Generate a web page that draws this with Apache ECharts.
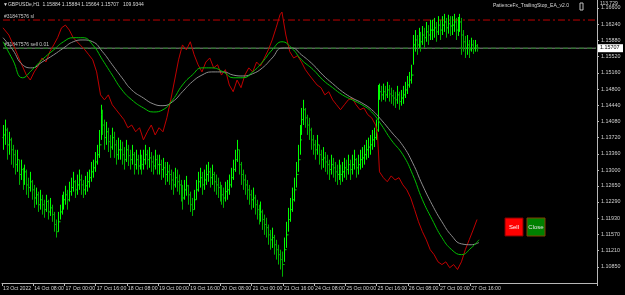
<!DOCTYPE html>
<html><head><meta charset="utf-8">
<script src="https://cdn.jsdelivr.net/npm/echarts@6/dist/echarts.min.js"></script>
<style>html,body{margin:0;padding:0;background:#000;}#c{width:625px;height:295px;}</style>
</head><body><div id="c"></div>
<script>
const firstOpen = 1.1372;
const closes = [
1.1378,1.1389,1.1356,1.1367,1.1345, 1.1334,1.1312,1.1323,1.1290,1.1301, 1.1278,1.1296,1.1267,1.1261,1.1274,
1.1256,1.1238,1.1245,1.1223,1.1234, 1.1223,1.1212,1.1230,1.1207,1.1216, 1.1201,1.1179,1.1163,1.1185,1.1207,
1.1223,1.1234,1.1245,1.1234,1.1252, 1.1261,1.1274,1.1256,1.1267,1.1278, 1.1267,1.1256,1.1265,1.1274,1.1283,
1.1296,1.1305,1.1318,1.1334,1.1356, 1.1423,1.1400,1.1372,1.1385,1.1363, 1.1351,1.1372,1.1356,1.1334,1.1345,
1.1345,1.1334,1.1323,1.1345,1.1332, 1.1323,1.1334,1.1312,1.1323,1.1309, 1.1323,1.1312,1.1323,1.1334,1.1323,
1.1327,1.1318,1.1309,1.1323,1.1312, 1.1312,1.1301,1.1305,1.1290,1.1296, 1.1290,1.1278,1.1267,1.1283,1.1274,
1.1267,1.1252,1.1238,1.1256,1.1265, 1.1245,1.1223,1.1212,1.1234,1.1256, 1.1274,1.1283,1.1267,1.1278,1.1290,
1.1296,1.1283,1.1290,1.1274,1.1267, 1.1261,1.1252,1.1245,1.1238,1.1252, 1.1256,1.1267,1.1283,1.1301,1.1323,
1.1345,1.1312,1.1290,1.1278,1.1267, 1.1256,1.1245,1.1234,1.1238,1.1223, 1.1212,1.1201,1.1207,1.1190,1.1179,
1.1172,1.1156,1.1145,1.1150,1.1134, 1.1123,1.1112,1.1101,1.1090,1.1123, 1.1156,1.1190,1.1212,1.1234,1.1256,
1.1290,1.1323,1.1367,1.1412,1.1434, 1.1416,1.1400,1.1389,1.1367,1.1356, 1.1345,1.1356,1.1334,1.1323,1.1327,
1.1318,1.1312,1.1301,1.1312,1.1305, 1.1296,1.1290,1.1301,1.1290,1.1296, 1.1305,1.1301,1.1312,1.1301,1.1312,
1.1323,1.1305,1.1312,1.1323,1.1327, 1.1334,1.1345,1.1351,1.1356,1.1367, 1.1372,1.1389,1.1467,1.1474,1.1467,
1.1474,1.1467,1.1478,1.1469,1.1465, 1.1460,1.1456,1.1467,1.1452,1.1460, 1.1467,1.1478,1.1489,1.1500,1.1511,
1.1578,1.1589,1.1578,1.1594,1.1585, 1.1600,1.1594,1.1607,1.1600,1.1611, 1.1611,1.1616,1.1607,1.1622,1.1611,
1.1622,1.1629,1.1616,1.1625,1.1620, 1.1622,1.1629,1.1611,1.1620,1.1629, 1.1600,1.1585,1.1571,1.1578,1.1567,
1.1578,1.1571,1.1576,1.15707
];
const highs = [
1.1400,1.1412,1.1394,1.1385,1.1372, 1.1356,1.1345,1.1345,1.1323,1.1323, 1.1305,1.1312,1.1301,1.1283,1.1296,
1.1278,1.1267,1.1261,1.1252,1.1256, 1.1245,1.1234,1.1245,1.1234,1.1238, 1.1223,1.1207,1.1190,1.1207,1.1223,
1.1245,1.1252,1.1265,1.1256,1.1274, 1.1283,1.1296,1.1278,1.1290,1.1301, 1.1290,1.1278,1.1287,1.1296,1.1301,
1.1318,1.1323,1.1340,1.1356,1.1389, 1.1445,1.1434,1.1412,1.1407,1.1394, 1.1378,1.1394,1.1385,1.1367,1.1372,
1.1367,1.1363,1.1351,1.1367,1.1356, 1.1345,1.1356,1.1340,1.1345,1.1334, 1.1345,1.1334,1.1345,1.1356,1.1345,
1.1351,1.1340,1.1332,1.1345,1.1334, 1.1334,1.1323,1.1327,1.1318,1.1318, 1.1312,1.1301,1.1296,1.1305,1.1301,
1.1290,1.1278,1.1267,1.1278,1.1287, 1.1267,1.1252,1.1238,1.1256,1.1278, 1.1296,1.1305,1.1296,1.1301,1.1312,
1.1318,1.1305,1.1312,1.1296,1.1290, 1.1283,1.1274,1.1267,1.1261,1.1274, 1.1278,1.1290,1.1305,1.1323,1.1345,
1.1367,1.1345,1.1318,1.1301,1.1290, 1.1278,1.1267,1.1256,1.1261,1.1245, 1.1234,1.1223,1.1230,1.1212,1.1201,
1.1194,1.1179,1.1167,1.1172,1.1156, 1.1145,1.1134,1.1123,1.1119,1.1150, 1.1185,1.1216,1.1238,1.1261,1.1283,
1.1318,1.1356,1.1400,1.1438,1.1456, 1.1438,1.1423,1.1416,1.1394,1.1378, 1.1367,1.1378,1.1356,1.1345,1.1351,
1.1340,1.1334,1.1323,1.1334,1.1327, 1.1318,1.1312,1.1323,1.1312,1.1318, 1.1327,1.1323,1.1334,1.1323,1.1334,
1.1345,1.1327,1.1334,1.1345,1.1351, 1.1356,1.1367,1.1372,1.1378,1.1389, 1.1394,1.1412,1.1489,1.1492,1.1487,
1.1492,1.1487,1.1496,1.1489,1.1483, 1.1478,1.1474,1.1487,1.1474,1.1478, 1.1487,1.1496,1.1509,1.1518,1.1534,
1.1600,1.1611,1.1600,1.1616,1.1607, 1.1620,1.1616,1.1629,1.1622,1.1634, 1.1634,1.1638,1.1629,1.1642,1.1634,
1.1642,1.1647,1.1638,1.1645,1.1642, 1.1642,1.1647,1.1638,1.1640,1.1647, 1.1638,1.1611,1.1598,1.1600,1.1589,
1.1594,1.1589,1.1589,1.1580
];
const lows = [
1.1345,1.1356,1.1323,1.1334,1.1312, 1.1305,1.1290,1.1296,1.1267,1.1278, 1.1256,1.1267,1.1245,1.1238,1.1252,
1.1234,1.1216,1.1223,1.1207,1.1212, 1.1201,1.1194,1.1207,1.1190,1.1198, 1.1185,1.1163,1.1150,1.1163,1.1190,
1.1201,1.1212,1.1223,1.1212,1.1230, 1.1243,1.1252,1.1238,1.1245,1.1256, 1.1245,1.1238,1.1245,1.1252,1.1261,
1.1274,1.1283,1.1296,1.1312,1.1327, 1.1367,1.1378,1.1345,1.1356,1.1340, 1.1327,1.1345,1.1327,1.1312,1.1323,
1.1323,1.1312,1.1301,1.1318,1.1309, 1.1301,1.1312,1.1290,1.1301,1.1290, 1.1301,1.1290,1.1301,1.1312,1.1301,
1.1305,1.1296,1.1290,1.1301,1.1290, 1.1290,1.1278,1.1283,1.1267,1.1274, 1.1267,1.1256,1.1245,1.1261,1.1252,
1.1245,1.1230,1.1212,1.1234,1.1243, 1.1223,1.1207,1.1198,1.1212,1.1234, 1.1252,1.1261,1.1245,1.1256,1.1267,
1.1274,1.1261,1.1267,1.1252,1.1245, 1.1238,1.1230,1.1223,1.1216,1.1230, 1.1234,1.1245,1.1261,1.1278,1.1296,
1.1318,1.1290,1.1267,1.1256,1.1245, 1.1234,1.1223,1.1212,1.1216,1.1201, 1.1190,1.1179,1.1185,1.1167,1.1156,
1.1150,1.1134,1.1123,1.1127,1.1112, 1.1101,1.1090,1.1079,1.1063,1.1096, 1.1127,1.1163,1.1185,1.1207,1.1230,
1.1261,1.1296,1.1334,1.1378,1.1400, 1.1394,1.1378,1.1367,1.1345,1.1334, 1.1323,1.1334,1.1312,1.1301,1.1305,
1.1296,1.1290,1.1278,1.1290,1.1283, 1.1274,1.1267,1.1278,1.1267,1.1274, 1.1283,1.1278,1.1290,1.1278,1.1290,
1.1301,1.1283,1.1290,1.1301,1.1305, 1.1312,1.1323,1.1327,1.1334,1.1345, 1.1351,1.1367,1.1385,1.1456,1.1452,
1.1456,1.1452,1.1460,1.1452,1.1447, 1.1443,1.1438,1.1447,1.1434,1.1443, 1.1447,1.1460,1.1469,1.1483,1.1492,
1.1534,1.1563,1.1556,1.1571,1.1563, 1.1578,1.1571,1.1585,1.1578,1.1589, 1.1589,1.1594,1.1585,1.1600,1.1589,
1.1600,1.1607,1.1594,1.1603,1.1598, 1.1600,1.1607,1.1589,1.1598,1.1607, 1.1556,1.1563,1.1549,1.1556,1.1549,
1.1563,1.1558,1.1563,1.1563
];
const redLine = [[0,1.1616],[3,1.1600],[6,1.1571],[9,1.1540],[12,1.1511],[14,1.1500],[16,1.1518],[18,1.1531],[20,1.1549],[22,1.1540],[24,1.1563],[26,1.1578],[28,1.1594],[30,1.1616],[32,1.1622],[34,1.1611],[36,1.1594],[38,1.1585],[40,1.1576],[42,1.1567],[44,1.1556],[46,1.1545],[48,1.1518],[50,1.1467],[52,1.1456],[54,1.1467],[56,1.1445],[58,1.1434],[60,1.1423],[62,1.1412],[64,1.1394],[66,1.1400],[68,1.1385],[70,1.1394],[72,1.1367],[74,1.1385],[76,1.1400],[78,1.1378],[80,1.1394],[82,1.1385],[84,1.1416],[86,1.1456],[88,1.1500],[90,1.1545],[92,1.1578],[94,1.1567],[96,1.1585],[98,1.1556],[100,1.1534],[102,1.1518],[104,1.1540],[106,1.1549],[108,1.1527],[110,1.1534],[112,1.1511],[114,1.1523],[116,1.1489],[118,1.1474],[120,1.1500],[122,1.1483],[124,1.1511],[126,1.1527],[128,1.1518],[130,1.1540],[132,1.1531],[134,1.1549],[136,1.1567],[138,1.1589],[140,1.1616],[142,1.1645],[143,1.1651],[145,1.1600],[147,1.1563],[149,1.1549],[151,1.1554],[153,1.1540],[155,1.1523],[157,1.1511],[159,1.1500],[161,1.1489],[163,1.1483],[165,1.1467],[167,1.1474],[169,1.1456],[171,1.1445],[173,1.1434],[175,1.1445],[177,1.1456],[179,1.1460],[181,1.1445],[183,1.1434],[185,1.1438],[187,1.1423],[189,1.1416],[191,1.1400],[192,1.1378],[193,1.1296],[195,1.1283],[197,1.1274],[199,1.1287],[201,1.1278],[203,1.1283],[205,1.1267],[207,1.1256],[209,1.1238],[211,1.1212],[213,1.1185],[215,1.1163],[217,1.1145],[219,1.1123],[221,1.1112],[223,1.1096],[225,1.1090],[227,1.1096],[229,1.1083],[231,1.1090],[233,1.1079],[235,1.1096],[237,1.1123],[239,1.1145],[241,1.1167],[243,1.1190]];
const maGreen = [[0,1.1585],[5,1.1545],[10,1.1505],[15,1.1523],[20,1.1545],[26,1.1567],[31,1.1585],[36,1.1594],[41,1.1594],[46,1.1578],[51,1.1545],[56,1.1511],[61,1.1478],[66,1.1456],[72,1.1438],[77,1.1429],[82,1.1434],[87,1.1456],[92,1.1489],[97,1.1511],[102,1.1527],[107,1.1527],[113,1.1518],[118,1.1505],[123,1.1505],[128,1.1518],[133,1.1540],[138,1.1567],[143,1.1585],[148,1.1571],[153,1.1545],[159,1.1523],[164,1.1500],[169,1.1483],[174,1.1467],[179,1.1456],[184,1.1445],[189,1.1429],[194,1.1400],[199,1.1367],[205,1.1334],[210,1.1290],[215,1.1234],[220,1.1190],[225,1.1150],[230,1.1123],[235,1.1112],[240,1.1127],[244,1.1145]];
const maGray = [[0,1.1594],[5,1.1567],[10,1.1534],[15,1.1527],[20,1.1540],[26,1.1556],[31,1.1571],[36,1.1585],[41,1.1589],[46,1.1585],[51,1.1563],[56,1.1534],[61,1.1505],[66,1.1478],[72,1.1460],[77,1.1447],[82,1.1443],[87,1.1452],[92,1.1474],[97,1.1496],[102,1.1511],[107,1.1518],[113,1.1518],[118,1.1511],[123,1.1509],[128,1.1514],[133,1.1527],[138,1.1549],[143,1.1571],[148,1.1571],[153,1.1556],[159,1.1534],[164,1.1511],[169,1.1492],[174,1.1474],[179,1.1460],[184,1.1449],[189,1.1434],[194,1.1411],[199,1.1385],[205,1.1354],[210,1.1316],[215,1.1267],[220,1.1223],[225,1.1185],[230,1.1154],[235,1.1136],[240,1.1134],[244,1.1139]];
const xLabels = ['13 Oct 2022','14 Oct 08:00','17 Oct 00:00','17 Oct 16:00','18 Oct 08:00','19 Oct 00:00','19 Oct 16:00','20 Oct 08:00','21 Oct 00:00','21 Oct 16:00','24 Oct 08:00','25 Oct 00:00','25 Oct 16:00','26 Oct 08:00','27 Oct 00:00','27 Oct 16:00'];
const yTicks = [1.16600,1.16240,1.15880,1.15520,1.15160,1.14800,1.14440,1.14080,1.13720,1.13360,1.13000,1.12650,1.12290,1.11930,1.11570,1.11210,1.10850];
const slPrice = 1.16333;
const entryPrice = 1.15707;
const yMin = 1.10490, yMax = 1.16778;
const nSlots = 305;
const barsPerLabel = 16;

const cats = [];
for (let i = 0; i < nSlots; i++) cats.push(String(i));
const ohlc = closes.map((c, i) => [i, i === 0 ? firstOpen : closes[i - 1], c, lows[i], highs[i]]);

const chart = echarts.init(document.getElementById('c'), null, {renderer: 'canvas'});
const FONT = 'Liberation Sans';
chart.setOption({
  backgroundColor: '#000',
  animation: false,
  grid: {left: 0, right: 28, top: 0, bottom: 12},
  xAxis: {
    type: 'category', data: cats, boundaryGap: true,
    axisLine: {lineStyle: {color: '#b8b8b8', width: 1}},
    axisTick: {show: true, interval: (i) => i % barsPerLabel === 0 && i / barsPerLabel < xLabels.length, length: 3, lineStyle: {color: '#b8b8b8'}},
    axisLabel: {show: true, showMinLabel: true, hideOverlap: false,
      interval: (i) => i % barsPerLabel === 0 && i / barsPerLabel < xLabels.length,
      formatter: (v) => xLabels[Math.round(Number(v) / barsPerLabel)] || '',
      color: '#d0d0d0', fontSize: 5.2, fontFamily: FONT, align: 'left', margin: 3},
    splitLine: {show: false}
  },
  yAxis: {
    type: 'value', position: 'right', min: yMin, max: yMax,
    axisLine: {show: true, lineStyle: {color: '#b8b8b8', width: 1}},
    axisTick: {show: true, customValues: yTicks, length: 2, lineStyle: {color: '#b8b8b8'}},
    axisLabel: {show: true, customValues: yTicks, formatter: (v) => v.toFixed(5), color: '#d0d0d0', fontSize: 5.4, fontFamily: FONT, margin: 4},
    splitLine: {show: false}
  },
  series: [
    {type: 'line', data: [[0, slPrice], [nSlots - 1, slPrice]], symbol: 'none', silent: true,
      lineStyle: {color: '#c00000', width: 1, type: [7, 3, 2, 3]}, z: 1},
    {type: 'line', data: [[0, entryPrice], [nSlots - 1, entryPrice]], symbol: 'none', silent: true,
      lineStyle: {color: '#8a8a8a', width: 1}, z: 1},
    {type: 'line', data: [[0, entryPrice], [nSlots - 1, entryPrice]], symbol: 'none', silent: true,
      lineStyle: {color: '#207a20', width: 1, type: [5, 3]}, z: 2},
    {type: 'custom', data: ohlc, z: 3,
      encode: {x: 0, y: [1, 2, 3, 4]},
      renderItem: function (params, api) {
        const i = api.value(0);
        const o = api.coord([i, api.value(1)]);
        const c = api.coord([i, api.value(2)]);
        const l = api.coord([i, api.value(3)]);
        const h = api.coord([i, api.value(4)]);
        const x = Math.round(h[0]) + 0.5;
        const col = api.value(2) >= api.value(1) ? '#00ff00' : '#00b000';
        return {type: 'group', children: [
          {type: 'line', shape: {x1: x, y1: h[1], x2: x, y2: l[1]}, style: {stroke: col, lineWidth: 1}},
          {type: 'line', shape: {x1: x - 1, y1: o[1], x2: x, y2: o[1]}, style: {stroke: col, lineWidth: 1}},
          {type: 'line', shape: {x1: x, y1: c[1], x2: x + 1, y2: c[1]}, style: {stroke: col, lineWidth: 1}}
        ]};
      }},
    {type: 'line', data: redLine, symbol: 'none', lineStyle: {color: '#c00000', width: 1}, z: 4},
    {type: 'line', data: maGray, symbol: 'none', smooth: true, lineStyle: {color: '#8c8c8c', width: 1}, z: 5},
    {type: 'line', data: maGreen, symbol: 'none', smooth: true, lineStyle: {color: '#00c000', width: 1}, z: 6}
  ]
});

const yEntry = chart.convertToPixel({yAxisIndex: 0}, entryPrice);
const ySl = chart.convertToPixel({yAxisIndex: 0}, slPrice);
chart.setOption({
  graphic: [
    {type: 'text', left: 3, top: 2, style: {text: '\u25BCGBPUSDe,H1  1.15884 1.15884 1.15664 1.15707   109.9344', fill: '#d8d8d8', font: '5px ' + FONT}},
    {type: 'text', left: 4, top: ySl - 6, style: {text: '#31847576 sl', fill: '#c8c8c8', font: '5px ' + FONT}},
    {type: 'text', left: 4, top: yEntry - 6, style: {text: '#31847576 sell 0.01', fill: '#c8c8c8', font: '5px ' + FONT}},
    {type: 'text', left: 493, top: 3, style: {text: 'PatienceFx_TrailingStop_EA_v2.0', fill: '#d8d8d8', font: '5px ' + FONT}},
    {type: 'rect', shape: {x: 580, y: 3, width: 3, height: 7}, style: {fill: 'none', stroke: '#c0c0c0', lineWidth: 1}},
    {type: 'text', left: 600, top: 1, style: {text: '113.729', fill: '#d8d8d8', font: '5px ' + FONT}},
    {type: 'rect', shape: {x: 598, y: yEntry - 4, width: 25, height: 8}, style: {fill: '#ffffff'}},
    {type: 'text', left: 600, top: yEntry - 3, style: {text: entryPrice.toFixed(5), fill: '#000', font: '5.4px ' + FONT}},
    {type: 'rect', shape: {x: 505, y: 218, width: 18, height: 18}, style: {fill: '#ff0000', stroke: '#800000', lineWidth: 1}},
    {type: 'text', x: 514, y: 227, style: {text: 'Sell', fill: '#fff', font: '6px ' + FONT, align: 'center', verticalAlign: 'middle'}},
    {type: 'rect', shape: {x: 527, y: 218, width: 18, height: 18}, style: {fill: '#008000', stroke: '#804000', lineWidth: 1}},
    {type: 'text', x: 536, y: 227, style: {text: 'Close', fill: '#e0e0e0', font: '6px ' + FONT, align: 'center', verticalAlign: 'middle'}}
  ]
});
</script>
</body></html>
